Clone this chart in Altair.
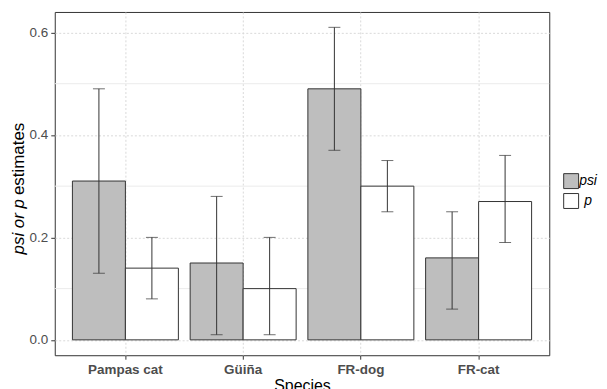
import altair as alt
import pandas as pd

species = ["Pampas cat", "Güiña", "FR-dog", "FR-cat"]
params = ["psi", "p"]
psi_est = [0.31, 0.15, 0.49, 0.16]
psi_lo = [0.13, 0.01, 0.37, 0.06]
psi_hi = [0.49, 0.28, 0.61, 0.25]
p_est = [0.14, 0.10, 0.30, 0.27]
p_lo = [0.08, 0.01, 0.25, 0.19]
p_hi = [0.20, 0.20, 0.35, 0.36]
minor_breaks = [0.1, 0.3, 0.5]
y_ticks = [0.0, 0.2, 0.4, 0.6]

rows = []
for i, s in enumerate(species):
    rows.append({"species": s, "param": "psi", "est": psi_est[i], "lo": psi_lo[i], "hi": psi_hi[i]})
    rows.append({"species": s, "param": "p", "est": p_est[i], "lo": p_lo[i], "hi": p_hi[i]})
df = pd.DataFrame(rows)
minor_df = pd.DataFrame({"v": minor_breaks})

FONT = "Liberation Sans"
DARK = "#333333"

yscale = alt.Scale(domain=[-0.03, 0.64], nice=False, zero=False)
xscale = alt.Scale(domain=species, paddingInner=0, paddingOuter=0.1)
offscale = alt.Scale(domain=params, paddingInner=0, paddingOuter=0.111)

x_enc = alt.X("species:N", scale=xscale, sort=species,
              axis=alt.Axis(title="Species", labelFontWeight="bold", labelFontSize=13.5,
                            labelColor="#4d4d4d", labelAngle=0, tickColor=DARK, tickSize=4,
                            labelPadding=3, titleFontSize=16, titleFontWeight="normal",
                            titleColor="black", titlePadding=2, domain=False,
                            grid=True, gridDash=[2, 2], gridColor="#d9d9d9", bandPosition=0.5,
                            labelFont=FONT, titleFont=FONT))
xo_enc = alt.XOffset("param:N", scale=offscale, sort=params)

minor = alt.Chart(minor_df).mark_rule(color="#ebebeb", strokeWidth=1).encode(
    y=alt.Y("v:Q", scale=yscale)
)

bars = alt.Chart(df).mark_bar(stroke=DARK, strokeWidth=1).encode(
    x=x_enc,
    xOffset=xo_enc,
    y=alt.Y("est:Q", scale=yscale,
            axis=alt.Axis(title=None, values=y_ticks, format=".1f", labelFontSize=13.5,
                          labelColor="#4d4d4d", tickColor=DARK, tickSize=4, labelPadding=3,
                          domain=False, grid=True, gridDash=[2, 2], gridColor="#d9d9d9",
                          labelFont=FONT)),
    fill=alt.Fill("param:N", scale=alt.Scale(domain=params, range=["#bebebe", "#ffffff"]),
                  legend=alt.Legend(title=None, orient="none", legendX=511, legendY=162,
                                    symbolType="square", symbolSize=225, symbolStrokeColor=DARK,
                                    symbolStrokeWidth=1, labelFontStyle="italic",
                                    labelFontWeight="normal", labelFontSize=14, labelFont=FONT,
                                    labelColor="black", rowPadding=0, labelAlign="center",
                                    labelOffset=9)),
)

err = alt.Chart(df).mark_rule(color=DARK, strokeWidth=1).encode(
    x=alt.X("species:N", scale=xscale, sort=species),
    xOffset=xo_enc,
    y=alt.Y("lo:Q", scale=yscale),
    y2="hi:Q",
)
cap_lo = alt.Chart(df).mark_tick(color=DARK, thickness=1, size=12, orient="horizontal").encode(
    x=alt.X("species:N", scale=xscale, sort=species),
    xOffset=xo_enc,
    y=alt.Y("lo:Q", scale=yscale),
)
cap_hi = alt.Chart(df).mark_tick(color=DARK, thickness=1, size=12, orient="horizontal").encode(
    x=alt.X("species:N", scale=xscale, sort=species),
    xOffset=xo_enc,
    y=alt.Y("hi:Q", scale=yscale),
)

title_df = pd.DataFrame({"t": ["psi or p"]})
title_df2 = pd.DataFrame({"t": ["estimates"]})
ytitle1 = alt.Chart(title_df).mark_text(angle=270, align="right", baseline="middle",
                                         fontStyle="italic", fontSize=17, font=FONT,
                                         color="black").encode(
    x=alt.value(-36), y=alt.value(188), text="t:N")
ytitle2 = alt.Chart(title_df2).mark_text(angle=270, align="left", baseline="middle",
                                          fontSize=17, font=FONT, color="black").encode(
    x=alt.value(-36), y=alt.value(184), text="t:N")

chart = alt.layer(minor, bars, err, cap_lo, cap_hi, ytitle1, ytitle2).properties(
    width=497, height=345,
    autosize=alt.AutoSizeParams(type="none"),
    padding={"left": 47, "top": 3, "right": 50, "bottom": 40},
).configure(background="white").configure_view(stroke=DARK, strokeWidth=1)

chart.save("out.html", embed_options={"renderer": "svg", "actions": False})
